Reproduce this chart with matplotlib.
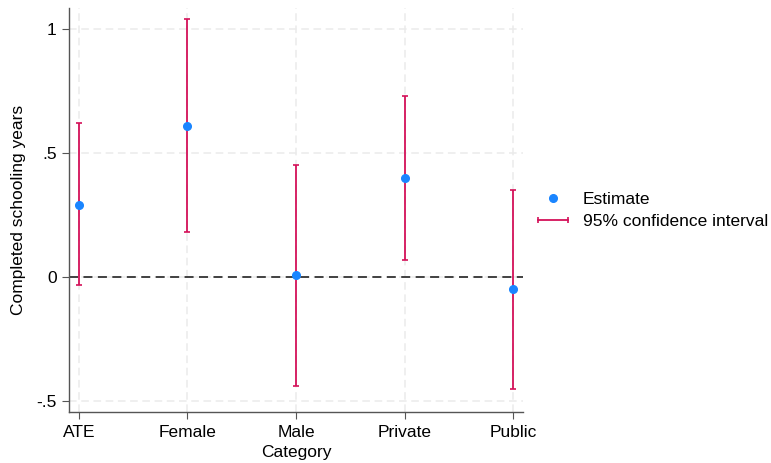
import matplotlib
matplotlib.use("Agg")
import matplotlib.pyplot as plt
from matplotlib.lines import Line2D
from matplotlib.legend_handler import HandlerLine2D

categories = ["ATE", "Female", "Male", "Private", "Public"]
estimate = [0.29, 0.61, 0.01, 0.40, -0.05]
ci_low = [-0.03, 0.18, -0.44, 0.07, -0.45]
ci_high = [0.62, 1.04, 0.45, 0.73, 0.35]
yticks = [-0.5, 0, 0.5, 1]
ytick_labels = ["-.5", "0", ".5", "1"]

blue = "#1A85FF"
red = "#D41159"
fs = 12.5

plt.rcParams["font.family"] = ["Liberation Sans", "DejaVu Sans"]

fig = plt.figure(figsize=(7.71, 4.63), dpi=100)
ax = fig.add_axes([0.0895, 0.110, 0.589, 0.873])

x = list(range(len(categories)))
lo = [e - l for e, l in zip(estimate, ci_low)]
hi = [h - e for e, h in zip(estimate, ci_high)]

ax.axhline(0, color="#333333", lw=1.3, ls=(0, (5, 3)), zorder=1)
ax.errorbar(x, estimate, yerr=[lo, hi], fmt="none", ecolor=red, elinewidth=1.3,
            capsize=2.2, capthick=1.2, zorder=2)
ax.plot(x, estimate, "o", color=blue, ms=5.5, zorder=3)

ax.set_xlim(-0.09, 4.09)
ax.set_ylim(-0.544, 1.085)
ax.set_xticks(x)
ax.set_xticklabels(categories)
ax.set_yticks(yticks)
ax.set_yticklabels(ytick_labels)
ax.grid(True, color="#EBEBEB", ls=(0, (5, 3)), lw=1.1)
ax.set_axisbelow(True)

for s in ["top", "right"]:
    ax.spines[s].set_visible(False)
for s in ["left", "bottom"]:
    ax.spines[s].set_color("#555555")
    ax.spines[s].set_linewidth(1.0)
ax.tick_params(axis="both", labelsize=fs, length=5, color="#555555", pad=4)

ax.set_ylabel("Completed schooling years", fontsize=fs, labelpad=7)
ax.set_xlabel("Category", fontsize=fs, labelpad=4)

h_est = Line2D([], [], ls="none", marker="o", color=blue, ms=5.5)
h_ci = Line2D([], [], color=red, lw=1.3, marker="|", ms=5, mew=1.2)
fig.legend([h_est, h_ci], ["Estimate", "95% confidence interval"],
           loc="center left", bbox_to_anchor=(0.6915, 0.545), frameon=False,
           fontsize=fs, handlelength=2.3, handletextpad=0.55, labelspacing=0.4,
           borderpad=0, borderaxespad=0,
           handler_map={h_ci: HandlerLine2D(numpoints=2)})

fig.savefig("out.png", dpi=100)
